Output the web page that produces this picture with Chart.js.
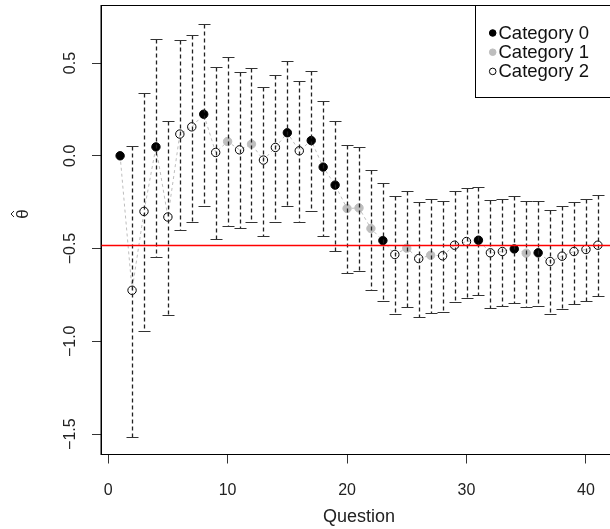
<!DOCTYPE html>
<html>
<head>
<meta charset="utf-8">
<script src="https://cdn.jsdelivr.net/npm/chart.js@4.4.1/dist/chart.umd.min.js"></script>
<style>
html, body { margin: 0; padding: 0; background: #fff; overflow: hidden; }
canvas { display: block; }
</style>
</head>
<body>
<canvas id="myChart" width="625" height="529"></canvas>
<script>
/*----------------------------- data -------------------------------------------------*/
const questions = [1, 2, 3, 4, 5, 6, 7, 8, 9, 10, 11, 12, 13, 14, 15, 16, 17, 18, 19, 20,
    21, 22, 23, 24, 25, 26, 27, 28, 29, 30, 31, 32, 33, 34, 35, 36, 37, 38, 39, 40, 41];
const theta = [0.00, -0.725, -0.30, 0.048, -0.33, 0.117, 0.156, 0.224, 0.018, 0.077,
    0.032, 0.063, -0.023, 0.045, 0.124, 0.027, 0.082, -0.061, -0.158, -0.284,
    -0.281, -0.392, -0.457, -0.532, -0.498, -0.554, -0.536, -0.539, -0.482, -0.462,
    -0.455, -0.523, -0.516, -0.502, -0.525, -0.523, -0.570, -0.541, -0.516, -0.505, -0.482];
const upper = [null, 0.055, 0.339, 0.631, 0.188, 0.625, 0.652, 0.71, 0.477, 0.53,
    0.45, 0.471, 0.373, 0.435, 0.509, 0.405, 0.457, 0.297, 0.19, 0.059,
    0.05, -0.079, -0.145, -0.219, -0.19, -0.249, -0.233, -0.244, -0.19, -0.176,
    -0.17, -0.24, -0.233, -0.219, -0.246, -0.244, -0.292, -0.271, -0.249, -0.235, -0.21];
const lower = [null, -1.515, -0.944, -0.545, -0.859, -0.398, -0.355, -0.272, -0.446, -0.38,
    -0.391, -0.355, -0.43, -0.358, -0.269, -0.355, -0.297, -0.43, -0.514, -0.634,
    -0.622, -0.726, -0.783, -0.851, -0.815, -0.869, -0.849, -0.844, -0.787, -0.767,
    -0.753, -0.819, -0.81, -0.796, -0.815, -0.81, -0.855, -0.828, -0.797, -0.785, -0.758];
const category = [0, 2, 2, 0, 2, 2, 2, 0, 2, 1, 2, 1, 2, 2, 0, 2, 0, 0, 0, 1,
    1, 1, 0, 2, 1, 2, 1, 2, 2, 2, 0, 2, 2, 0, 1, 0, 2, 2, 2, 2, 2];
const categoryNames = ['Category 0', 'Category 1', 'Category 2'];
const meanTheta = -0.483;
const xTicks = [0, 10, 20, 30, 40];
const yTicks = [-1.5, -1.0, -0.5, 0.0, 0.5];

const FONT = '"Liberation Sans", Arial, sans-serif';
const catFill = ['#000000', '#bebebe', 'rgba(0,0,0,0)'];
const catStroke = ['#000000', '#bebebe', '#000000'];

/*----------------------------- datasets -------------------------------------------------*/
let catSets = categoryNames.map(function (name, c) {
    let pts = [];
    questions.forEach(function (q, i) {
        if (category[i] === c) pts.push({ x: q, y: theta[i] });
    });
    return {
        label: name,
        data: pts,
        showLine: false,
        pointRadius: 4.2,
        pointBorderWidth: 1,
        pointBackgroundColor: catFill[c],
        pointBorderColor: catStroke[c],
        order: 1
    };
});

let pathSet = {
    label: 'path',
    data: questions.map((q, i) => ({ x: q, y: theta[i] })),
    showLine: true,
    borderColor: '#bdbdbd',
    borderWidth: 1,
    borderDash: [3, 3],
    pointRadius: 0,
    order: 10
};

/*----------------------------- extras plugin -------------------------------------------------*/
const extras = {
    id: 'extras',
    afterDatasetsDraw(chart) {
        const ctx = chart.ctx, xs = chart.scales.x, ys = chart.scales.y, a = chart.chartArea;
        ctx.save();
        // error bars
        questions.forEach(function (q, i) {
            if (upper[i] === null) return;
            const px = Math.round(xs.getPixelForValue(q)) + 0.5;
            const pu = Math.round(ys.getPixelForValue(upper[i])) + 0.5;
            const pl = Math.round(ys.getPixelForValue(lower[i])) + 0.5;
            ctx.strokeStyle = '#222';
            ctx.lineWidth = 1.3;
            ctx.setLineDash([4, 3]);
            ctx.beginPath();
            ctx.moveTo(px, pu);
            ctx.lineTo(px, pl);
            ctx.stroke();
            ctx.setLineDash([]);
            ctx.lineWidth = 1;
            ctx.strokeStyle = '#333';
            ctx.beginPath();
            ctx.moveTo(px - 6, pu); ctx.lineTo(px + 6, pu);
            ctx.moveTo(px - 6, pl); ctx.lineTo(px + 6, pl);
            ctx.stroke();
        });
        // mean line
        const pm = Math.round(ys.getPixelForValue(meanTheta)) + 0.5;
        ctx.strokeStyle = '#ff0000';
        ctx.lineWidth = 1.6;
        ctx.beginPath();
        ctx.moveTo(a.left, pm);
        ctx.lineTo(a.right, pm);
        ctx.stroke();
        ctx.restore();
    },
    afterDraw(chart) {
        const ctx = chart.ctx, ys = chart.scales.y, a = chart.chartArea;
        ctx.save();
        // box
        ctx.strokeStyle = '#000';
        ctx.lineWidth = 1;
        ctx.strokeRect(a.left, a.top, a.right - a.left, a.bottom - a.top);
        // y tick labels, rotated like R
        ctx.fillStyle = '#222';
        ctx.font = '16px ' + FONT;
        ctx.textAlign = 'center';
        ctx.textBaseline = 'middle';
        yTicks.forEach(function (v) {
            const py = ys.getPixelForValue(v);
            ctx.save();
            ctx.translate(71, py);
            ctx.rotate(-Math.PI / 2);
            ctx.fillText(v.toFixed(1).replace('-', '\u2212'), 0, 0);
            ctx.restore();
        });
        // y title: theta with a hat
        ctx.save();
        ctx.translate(23, 214);
        ctx.rotate(-Math.PI / 2);
        ctx.font = '17px ' + FONT;
        ctx.fillText('\u03b8', 0, 0);
        ctx.lineWidth = 1;
        ctx.strokeStyle = '#222';
        ctx.beginPath();
        ctx.moveTo(-3, -9);
        ctx.lineTo(0, -12);
        ctx.lineTo(3, -9);
        ctx.stroke();
        ctx.restore();
        // legend
        const lx = 475.5, ly = a.top, lb = 97.5;
        ctx.fillStyle = '#fff';
        ctx.fillRect(lx, ly, a.right - lx, lb - ly);
        ctx.strokeStyle = '#000';
        ctx.strokeRect(lx, ly, a.right - lx, lb - ly);
        ctx.font = '18.5px ' + FONT;
        ctx.textAlign = 'left';
        categoryNames.forEach(function (name, c) {
            const y = 33 + c * 19.2;
            ctx.beginPath();
            ctx.arc(492.7, y, 3.3, 0, Math.PI * 2);
            ctx.fillStyle = catFill[c];
            ctx.fill();
            ctx.strokeStyle = catStroke[c];
            ctx.lineWidth = 1;
            ctx.stroke();
            ctx.fillStyle = '#111';
            ctx.fillText(name, 498.5, y + 1);
        });
        ctx.restore();
    }
};

/*----------------------------- chart -------------------------------------------------*/
let myChart = document.getElementById('myChart').getContext('2d');

let thetaChart = new Chart(myChart, {
    type: 'scatter',
    data: { datasets: [pathSet].concat(catSets) },
    options: {
        responsive: false,
        animation: false,
        layout: { padding: { top: 5.5, right: 8, left: 0, bottom: 0 } },
        plugins: {
            legend: { display: false },
            tooltip: { enabled: false },
            title: { display: false }
        },
        scales: {
            x: {
                type: 'linear',
                min: -0.6,
                max: 42.6,
                afterBuildTicks: s => { s.ticks = xTicks.map(v => ({ value: v })); },
                ticks: { color: '#222', font: { family: FONT, size: 16 }, padding: 17, maxRotation: 0 },
                grid: { drawOnChartArea: false, tickLength: 9, color: '#333' },
                border: { display: true, color: '#000', width: 1 },
                title: {
                    display: true, text: 'Question', color: '#222',
                    font: { family: FONT, size: 18 }, padding: { top: 0, bottom: 1 }
                },
                afterFit: s => { s.height = 74.5; }
            },
            y: {
                type: 'linear',
                min: -1.61,
                max: 0.81,
                afterBuildTicks: s => { s.ticks = yTicks.map(v => ({ value: v })); },
                ticks: { display: false },
                grid: { drawOnChartArea: false, tickLength: 9, color: '#333' },
                border: { display: true, color: '#000', width: 1 },
                afterFit: s => { s.width = 101; }
            }
        }
    },
    plugins: [extras]
});
</script>
</body>
</html>
